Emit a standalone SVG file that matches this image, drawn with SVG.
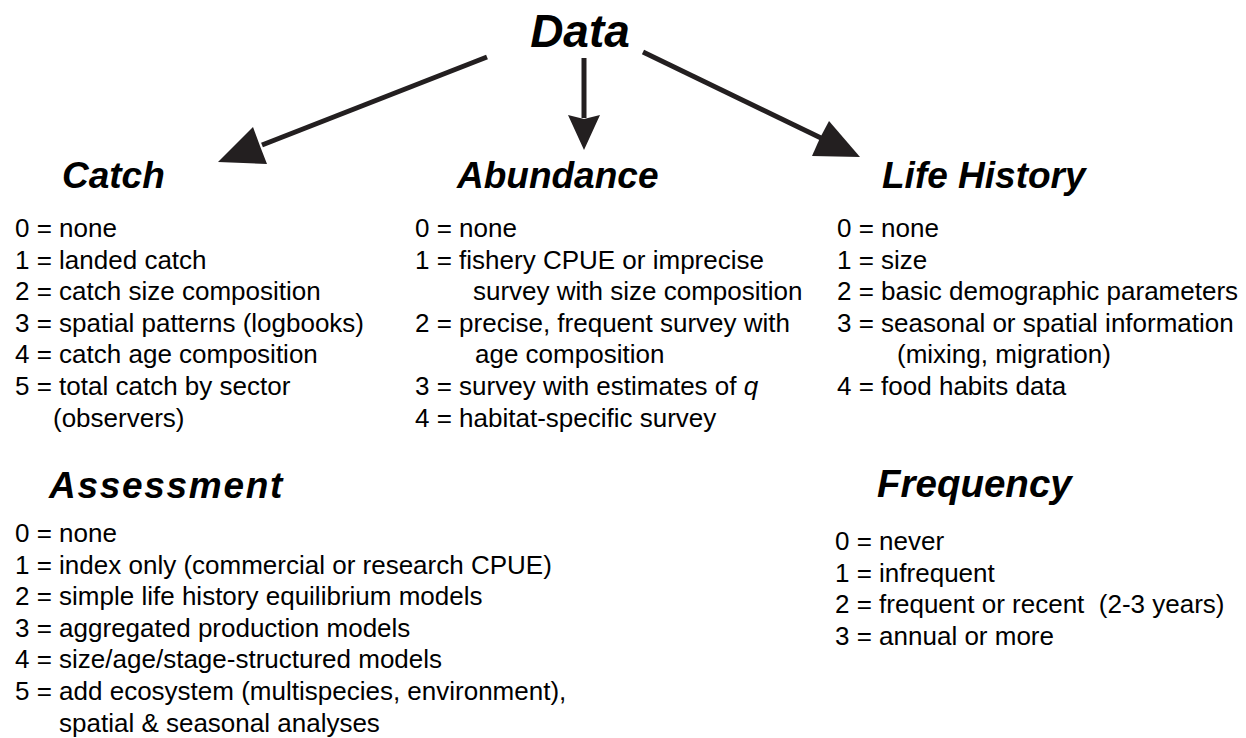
<svg xmlns="http://www.w3.org/2000/svg" width="1246" height="738" viewBox="0 0 1246 738">
<style>
.h{font-family:"Liberation Sans",Arial,sans-serif;font-weight:bold;font-style:italic;font-size:37px;fill:#000}
.t{font-family:"Liberation Sans",Arial,sans-serif;font-size:26px;fill:#000;white-space:pre}
.ln{stroke:#231f20;stroke-width:5;fill:none}
.hd{fill:#231f20}
</style>
<rect width="1246" height="738" fill="#fff"/>
<g id="data"><text class="h" x="580" y="47" text-anchor="middle" style="font-size:46px">Data</text></g>
<g id="connectors">
<line class="ln" x1="487" y1="57" x2="262" y2="145"/>
<polygon class="hd" points="218,162 253,127 260,146 267,164"/>
<line class="ln" x1="584" y1="58" x2="584" y2="118"/>
<polygon class="hd" points="584,150 568,115 584,119 600,115"/>
<line class="ln" x1="643" y1="52" x2="821" y2="138"/>
<polygon class="hd" points="860,157 829,121 820,138 812,156"/>
</g>
<g id="catch">
<text class="h" x="62" y="188">Catch</text>
<text class="t" x="15" y="237">0 = none</text>
<text class="t" x="15" y="269">1 = landed catch</text>
<text class="t" x="15" y="300">2 = catch size composition</text>
<text class="t" x="15" y="332">3 = spatial patterns (logbooks)</text>
<text class="t" x="15" y="363">4 = catch age composition</text>
<text class="t" x="15" y="395">5 = total catch by sector</text>
<text class="t" x="53" y="427">(observers)</text>
</g>
<g id="abundance">
<text class="h" x="457" y="188">Abundance</text>
<text class="t" x="415" y="237">0 = none</text>
<text class="t" x="415" y="269">1 = fishery CPUE or imprecise</text>
<text class="t" x="473" y="300">survey with size composition</text>
<text class="t" x="415" y="332">2 = precise, frequent survey with</text>
<text class="t" x="475" y="363">age composition</text>
<text class="t" x="415" y="395">3 = survey with estimates of <tspan font-style="italic">q</tspan></text>
<text class="t" x="415" y="427">4 = habitat-specific survey</text>
</g>
<g id="lifehistory">
<text class="h" x="882" y="188">Life History</text>
<text class="t" x="837" y="237">0 = none</text>
<text class="t" x="837" y="269">1 = size</text>
<text class="t" x="837" y="300">2 = basic demographic parameters</text>
<text class="t" x="837" y="332">3 = seasonal or spatial information</text>
<text class="t" x="897" y="363">(mixing, migration)</text>
<text class="t" x="837" y="395">4 = food habits data</text>
</g>
<g id="assessment">
<text class="h" x="49" y="498" style="letter-spacing:1.7px">Assessment</text>
<text class="t" x="15" y="542">0 = none</text>
<text class="t" x="15" y="574">1 = index only (commercial or research CPUE)</text>
<text class="t" x="15" y="605">2 = simple life history equilibrium models</text>
<text class="t" x="15" y="637">3 = aggregated production models</text>
<text class="t" x="15" y="668">4 = size/age/stage-structured models</text>
<text class="t" x="15" y="700">5 = add ecosystem (multispecies, environment),</text>
<text class="t" x="59" y="732">spatial &amp; seasonal analyses</text>
</g>
<g id="frequency">
<text class="h" x="877" y="497" style="font-size:38.5px">Frequency</text>
<text class="t" x="835" y="550">0 = never</text>
<text class="t" x="835" y="582">1 = infrequent</text>
<text class="t" x="835" y="613">2 = frequent or recent  (2-3 years)</text>
<text class="t" x="835" y="645">3 = annual or more</text>
</g>
</svg>
